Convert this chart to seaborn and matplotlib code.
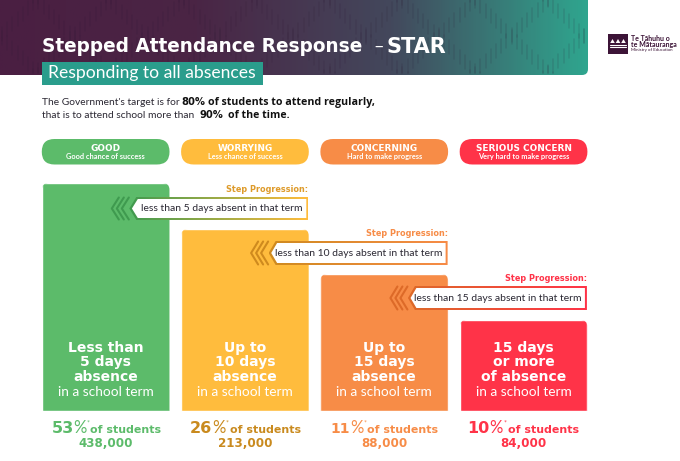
import numpy as np
import pandas as pd
import seaborn as sns
import matplotlib
matplotlib.use("Agg")
import matplotlib.pyplot as plt
from matplotlib.colors import LinearSegmentedColormap
from matplotlib.patches import FancyBboxPatch, Polygon, Rectangle
from matplotlib.transforms import IdentityTransform

# values
categories = ["GOOD", "WORRYING", "CONCERNING", "SERIOUS CONCERN"]
chances = ["Good chance of success", "Less chance of success", "Hard to make progress", "Very hard to make progress"]
step_height = [228, 182, 137, 91]
percent = ["53", "26", "11", "10"]
students = ["438,000", "213,000", "88,000", "84,000"]
bar_text = [["Less than", "5 days", "absence"], ["Up to", "10 days", "absence"],
            ["Up to", "15 days", "absence"], ["15 days", "or more", "of absence"]]
step_text = ["less than 5 days absent in that term", "less than 10 days absent in that term",
             "less than 15 days absent in that term"]
colors = ["#5CBB6A", "#FFBC3D", "#F78C47", "#FF3348"]
text_colors = ["#5CBB6A", "#C98A1E", "#F78C47", "#FF3348"]
step_colors = ["#DE9B2B", "#F78C47", "#FF3348"]
chevron_colors = ["#3F9A4F", "#CF8A1E", "#DD6A28"]

HEAD = "DejaVu Sans"
BODY = "Lato"
INK = "#2B2833"

sns.set_theme(style="white")
W, H = 680, 461
fig = plt.figure(figsize=(W / 100, H / 100), dpi=100)

# bars, through seaborn
ax = fig.add_axes([36.0 / W, (H - 411) / H, 557.2 / W, 360 / H])
df = pd.DataFrame({"level": categories, "height": step_height})
sns.barplot(data=df, x="level", y="height", hue="level", palette=colors, legend=False,
            width=0.917, saturation=1, ax=ax)
ax.set_ylim(0, 360)
ax.set_xlim(-0.5, 3.5)
ax.axis("off")

# overlay in pixel coordinates for the infographic parts
ov = fig.add_axes([0, 0, 1, 1], zorder=5)
ov.set_xlim(0, W)
ov.set_ylim(H, 0)
ov.axis("off")
ov.patch.set_alpha(0)

# rounded tops on the bars
fig.canvas.draw()
for bar in ax.patches:
    bb = bar.get_window_extent()
    clip = FancyBboxPatch((bb.x0 + 7, bb.y0 - 20), bb.width - 14, bb.height + 13,
                          boxstyle="round,pad=7", transform=IdentityTransform())
    bar.set_clip_path(clip)


def rounded(x0, y0, x1, y1, r, color, z=2, **kw):
    p = FancyBboxPatch((x0 + r, y0 + r), x1 - x0 - 2 * r, y1 - y0 - 2 * r,
                       boxstyle=f"round,pad={r}", fc=color, ec="none", zorder=z, **kw)
    ov.add_patch(p)
    return p


# header band with gradient
cmap = LinearSegmentedColormap.from_list("head", ["#4A1F42", "#4A2545", "#43485C", "#2FA58E"])
stops = np.linspace(0, 1, 300).reshape(1, -1)
img = ov.imshow(stops, extent=(0, 588, 75, 0), cmap=cmap, aspect="auto", zorder=1)
head_clip = FancyBboxPatch((-20, -20), 602, 89, boxstyle="round,pad=6", transform=ov.transData, fc="none", ec="none")
ov.add_patch(head_clip)
img.set_clip_path(head_clip)
ov.set_xlim(0, W)
ov.set_ylim(H, 0)

# woven pattern on the header
period = 73
for x in np.arange(2, 586, 5.2):
    t = abs((x % period) / period - 0.5) * 2
    for k in range(-1, 3):
        for yc in (t * 36 + k * 73, (1 - t) * 36 + k * 73 + 36):
            y0, y1 = yc - 7, yc + 7
            if y1 > 0 and y0 < 73:
                ov.plot([x, x], [max(y0, 0), min(y1, 73)], color="#2A1530", alpha=0.13, lw=1.1,
                        solid_capstyle="round", zorder=1.5)

# title block
ov.text(42, 47, "Stepped Attendance Response", color="white", fontsize=13.35, fontweight="bold",
        family=HEAD, va="center", zorder=4)
ov.text(373, 47, "–", color="white", fontsize=13, family=BODY, va="center", zorder=4)
ov.text(387, 47, "STAR", color="white", fontsize=15, fontweight="bold", family=HEAD, va="center", zorder=4)
ov.add_patch(Rectangle((42, 62), 221, 23, fc="#2A9D8C", ec="none", zorder=3))
ov.text(48, 73, "Responding to all absences", color="white", fontsize=12.6, family=BODY, va="center", zorder=4)

# intro text
ov.text(42, 105, "The Government's target is for", color=INK, fontsize=7.4, family=BODY, va="baseline")
ov.text(181, 105, "80%", color="#111111", fontsize=7.2, fontweight="bold", family=HEAD, va="baseline")
ov.text(208, 105, "of students to attend regularly,", color="#111111", fontsize=7.7, fontweight="bold", family="Open Sans", va="baseline")
ov.text(42, 117.5, "that is to attend school more than", color=INK, fontsize=7.4, family=BODY, va="baseline")
ov.text(199.5, 117.5, "90%", color="#111111", fontsize=7.2, fontweight="bold", family=HEAD, va="baseline")
ov.text(228, 117.5, "of the time.", color="#111111", fontsize=7.6, fontweight="bold", family="Open Sans", va="baseline")

# logo
ov.add_patch(Rectangle((608, 34), 20, 20, fc="#3C1437", ec="none", zorder=3))
for cx in (612.5, 618, 623.5):
    ov.add_patch(Polygon([[cx - 2.3, 43], [cx + 2.3, 43], [cx, 39]], fc="white", ec="none", zorder=4))
for yy in (45, 47.5):
    ov.plot([610, 626], [yy, yy], color="white", lw=0.8, zorder=4)
ov.text(631, 38.5, "Te Tāhuhu o", color="#3C1437", fontsize=5, fontweight="bold", family=BODY, va="center")
ov.text(631, 44, "te Mātauranga", color="#3C1437", fontsize=5, fontweight="bold", family=BODY, va="center")
ov.text(631, 49.5, "Ministry of Education", color="#3C1437", fontsize=3.2, family=BODY, va="center")

# pills and bar text placed from the bar geometry
centers = []
edges = []
for bar in ax.patches:
    bb = bar.get_window_extent()
    edges.append((bb.x0, bb.x1))
    centers.append((bb.x0 + bb.x1) / 2)

for i, cat in enumerate(categories):
    x0, x1 = edges[i]
    cx = centers[i]
    rounded(x0, 139, x1, 164.5, 12.7, colors[i])
    ov.text(cx, 148.5, cat, color="white", fontsize=6.4, fontweight="bold", family=HEAD, ha="center", va="center", zorder=4)
    ov.text(cx, 156.5, chances[i], color="white", fontsize=5.3, fontweight="bold", family=BODY, ha="center", va="center", zorder=4)
    for j, line in enumerate(bar_text[i]):
        ov.text(cx, 351.5 + j * 14.5, line, color="white", fontsize=10, fontweight="bold", family=HEAD, ha="center", va="baseline", zorder=4)
    ov.text(cx, 392, "in a school term", color="white", fontsize=9.8, family=BODY, ha="center", va="center", zorder=4)

# footer, each piece placed by hand to fit the mixed weights
num_x = [52, 190, 330, 467]
num_size = [11.5, 11.5, 10, 11.5]
pct_x = [73, 212, 350, 489.5]
star_x = [87, 226, 363.5, 504]
of_x = [90, 230, 367, 508]
for i in range(4):
    c = text_colors[i]
    ov.text(num_x[i], 433, percent[i], color=c, fontsize=num_size[i], fontweight="bold", family=HEAD, va="baseline")
    ov.text(pct_x[i], 433, "%", color=c, fontsize=12, family=BODY, va="baseline")
    ov.text(star_x[i], 423, "*", color=c, fontsize=5, family=BODY, va="center")
    ov.text(of_x[i], 433, "of students", color=c, fontsize=7.9, fontweight="bold", family=HEAD, va="baseline")
    ov.text(centers[i], 443.5, students[i], color=c, fontsize=8.6, fontweight="bold", family=HEAD, ha="center", va="center")

# step progression callouts
box_y = [(197, 220), (241, 265), (286, 310)]
for i in range(3):
    y0, y1 = box_y[i]
    xr = edges[i + 1][1] - 0.5
    xl = xr - 179
    ym = (y0 + y1) / 2
    ov.text(xr, y0 - 8, "Step Progression:", color=step_colors[i], fontsize=5.9, fontweight="bold",
            family=HEAD, ha="right", va="center", zorder=4)
    # outer shape filled with a gradient, white shape on top of it
    outline = Polygon([[xl, ym], [xl + 7, y0], [xr, y0], [xr, y1], [xl + 7, y1]], closed=True,
                      fc="none", ec="none", transform=ov.transData)
    ov.add_patch(outline)
    grad = LinearSegmentedColormap.from_list("b", [chevron_colors[i], colors[i + 1]])
    g = ov.imshow(np.linspace(0, 1, 100).reshape(1, -1), extent=(xl, xr, y1, y0), cmap=grad,
                  aspect="auto", zorder=6)
    g.set_clip_path(outline)
    ov.add_patch(Polygon([[xl + 2.6, ym], [xl + 8.5, y0 + 2], [xr - 2, y0 + 2], [xr - 2, y1 - 2], [xl + 8.5, y1 - 2]],
                         closed=True, fc="white", ec="none", zorder=7))
    ov.text(xr - 5.5, ym, step_text[i], color=INK, fontsize=7.45, family=BODY, ha="right", va="center", zorder=8)
    for k in range(3):
        xa = xl - 17.5 + k * 5
        ov.plot([xa + 7, xa, xa + 7], [y0 + 0.5, ym, y1 - 0.5], color=chevron_colors[i], lw=1.5, zorder=6)
ov.set_xlim(0, W)
ov.set_ylim(H, 0)

fig.savefig("out.png", dpi=100)
